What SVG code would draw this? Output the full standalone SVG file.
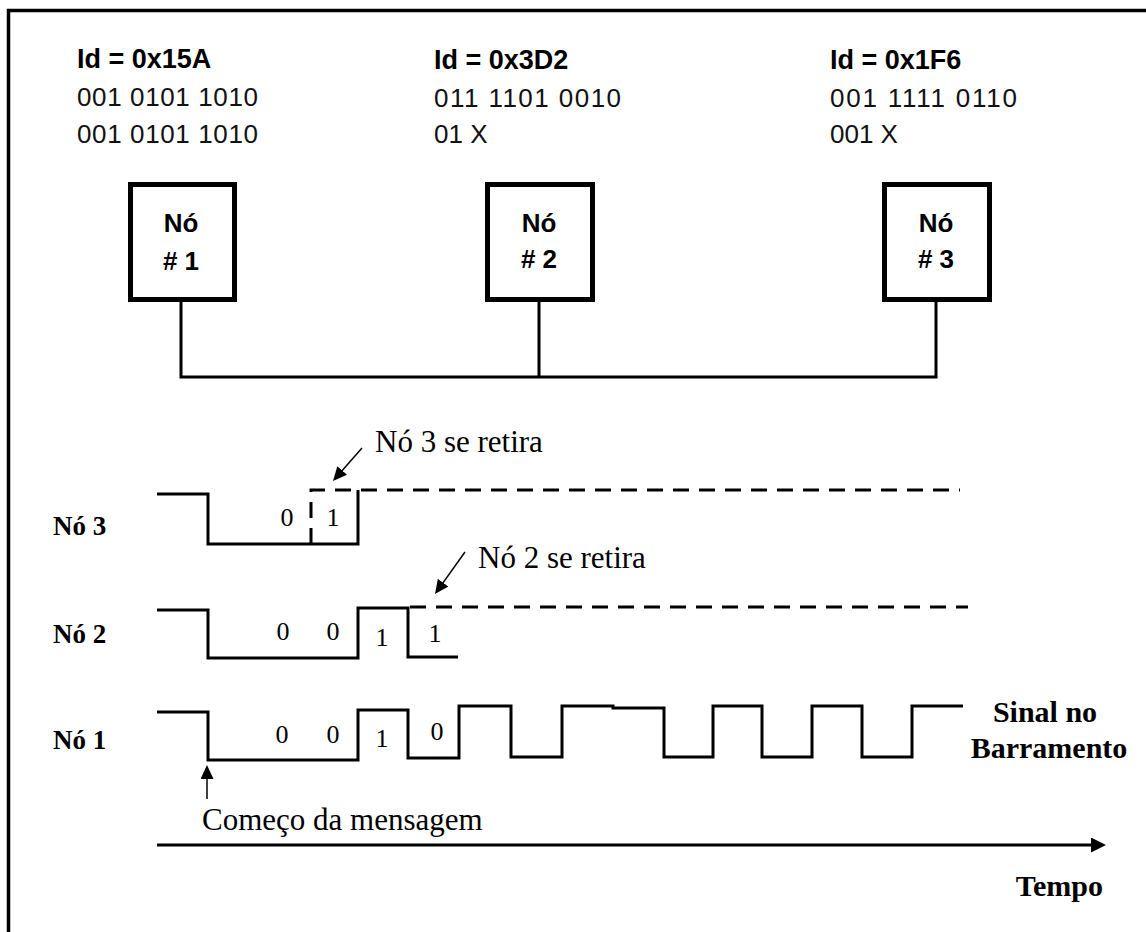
<svg xmlns="http://www.w3.org/2000/svg" width="1146" height="932" viewBox="0 0 1146 932">
<style>
.idb{font-family:"Liberation Sans",Arial,sans-serif;font-weight:bold;font-size:27px;fill:#000}
.bin{font-family:"Liberation Sans",Arial,sans-serif;font-size:26px;fill:#111}
.boxt{font-family:"Liberation Sans",Arial,sans-serif;font-weight:bold;font-size:26px;fill:#000;text-anchor:middle}
.box{fill:#fff;stroke:#000;stroke-width:5}
.wire{fill:none;stroke:#000;stroke-width:3}
.wave{fill:none;stroke:#000;stroke-width:3;stroke-linejoin:miter}
.dash{fill:none;stroke:#000;stroke-width:3;stroke-dasharray:16 10}
.thin{fill:none;stroke:#000;stroke-width:1.5}
.ser{font-family:"Liberation Serif","Times New Roman",serif;font-size:31px;fill:#000}
.dig{font-family:"Liberation Serif","Times New Roman",serif;font-size:26px;fill:#000;text-anchor:middle}
.lbl{font-family:"Liberation Serif","Times New Roman",serif;font-weight:bold;font-size:27px;fill:#000}
.bl{font-family:"Liberation Serif","Times New Roman",serif;font-weight:bold;font-size:30px;fill:#000}
</style>
<defs>
<marker id="headBig" markerUnits="userSpaceOnUse" markerWidth="16" markerHeight="16" refX="5" refY="7.5" orient="auto"><path d="M0,0 L15,7.5 L0,15 z" fill="#000"/></marker>
<marker id="headSmall" markerUnits="userSpaceOnUse" markerWidth="16" markerHeight="14" refX="4" refY="6.5" orient="auto"><path d="M0,0 L14,6.5 L0,13 z" fill="#000"/></marker>
</defs>
<rect width="1146" height="932" fill="#fff"/>
<path d="M8.5,932 V10.5 H1146" fill="none" stroke="#000" stroke-width="3.5"/>

<g id="node1">
<text class="idb" x="77" y="68">Id = 0x15A</text>
<text class="bin" x="77" y="106" textLength="181" lengthAdjust="spacing">001 0101 1010</text>
<text class="bin" x="77" y="143" textLength="181" lengthAdjust="spacing">001 0101 1010</text>
<rect class="box" x="130.5" y="184.5" width="104" height="115"/>
<text class="boxt" x="181" y="232">Nó</text>
<text class="boxt" x="181" y="270"># 1</text>
</g>
<g id="node2">
<text class="idb" x="434" y="69">Id = 0x3D2</text>
<text class="bin" x="434" y="107" textLength="187" lengthAdjust="spacing">011 1101 0010</text>
<text class="bin" x="434" y="143">01 X</text>
<rect class="box" x="487.5" y="184.5" width="105" height="115"/>
<text class="boxt" x="539" y="232">Nó</text>
<text class="boxt" x="539" y="268"># 2</text>
</g>
<g id="node3">
<text class="idb" x="830" y="69">Id = 0x1F6</text>
<text class="bin" x="830" y="107" textLength="187" lengthAdjust="spacing">001 1111 0110</text>
<text class="bin" x="830" y="143">001 X</text>
<rect class="box" x="884.5" y="184.5" width="105" height="115"/>
<text class="boxt" x="936" y="232">Nó</text>
<text class="boxt" x="936" y="268"># 3</text>
</g>

<g id="connectors">
<path class="wire" d="M181,302 V377 H936 V302"/>
<path class="wire" d="M539,302 V377"/>
</g>

<g id="wave-no3">
<text class="lbl" x="53" y="535">Nó 3</text>
<path class="wave" d="M157,494 H208 V544 H358 V490"/>
<path class="dash" d="M311,544 V490 H960"/>
<text class="dig" x="287" y="526">0</text>
<text class="dig" x="333" y="526">1</text>
<line class="thin" x1="362" y1="448" x2="339.6" y2="473.5" marker-end="url(#headSmall)"/>
<text class="ser" x="375" y="452">Nó 3 se retira</text>
</g>

<g id="wave-no2">
<text class="lbl" x="53" y="643">Nó 2</text>
<path class="wave" d="M157,610 H208 V658 H358 V608 H408 V657 H458"/>
<path class="dash" d="M410,607 H968"/>
<text class="dig" x="283" y="640">0</text>
<text class="dig" x="333" y="640">0</text>
<text class="dig" x="382" y="646">1</text>
<text class="dig" x="435" y="642">1</text>
<line class="thin" x1="465" y1="552" x2="440.8" y2="585.9" marker-end="url(#headSmall)"/>
<text class="ser" x="478" y="568">Nó 2 se retira</text>
</g>

<g id="wave-no1">
<text class="lbl" x="53" y="749">Nó 1</text>
<path class="wave" d="M157,712 H208 V760 H358 V710 H408 V758 H459 V706 H511 V757 H562 V706 H613 V708 H664 V757 H713 V706 H762 V757 H812 V706 H862 V757 H912 V706 H963"/>
<text class="dig" x="282" y="743">0</text>
<text class="dig" x="333" y="743">0</text>
<text class="dig" x="382" y="747">1</text>
<text class="dig" x="437" y="740">0</text>
<text class="bl" x="1045" y="722" text-anchor="middle">Sinal no</text>
<text class="bl" x="1049" y="758" text-anchor="middle">Barramento</text>
<line class="thin" x1="207" y1="799" x2="207" y2="775" marker-end="url(#headSmall)"/>
<text class="ser" x="202" y="830">Começo da mensagem</text>
</g>

<g id="time-axis">
<line x1="157" y1="845" x2="1096" y2="845" stroke="#000" stroke-width="3" marker-end="url(#headBig)"/>
<text class="bl" x="1103" y="896" text-anchor="end">Tempo</text>
</g>
</svg>
